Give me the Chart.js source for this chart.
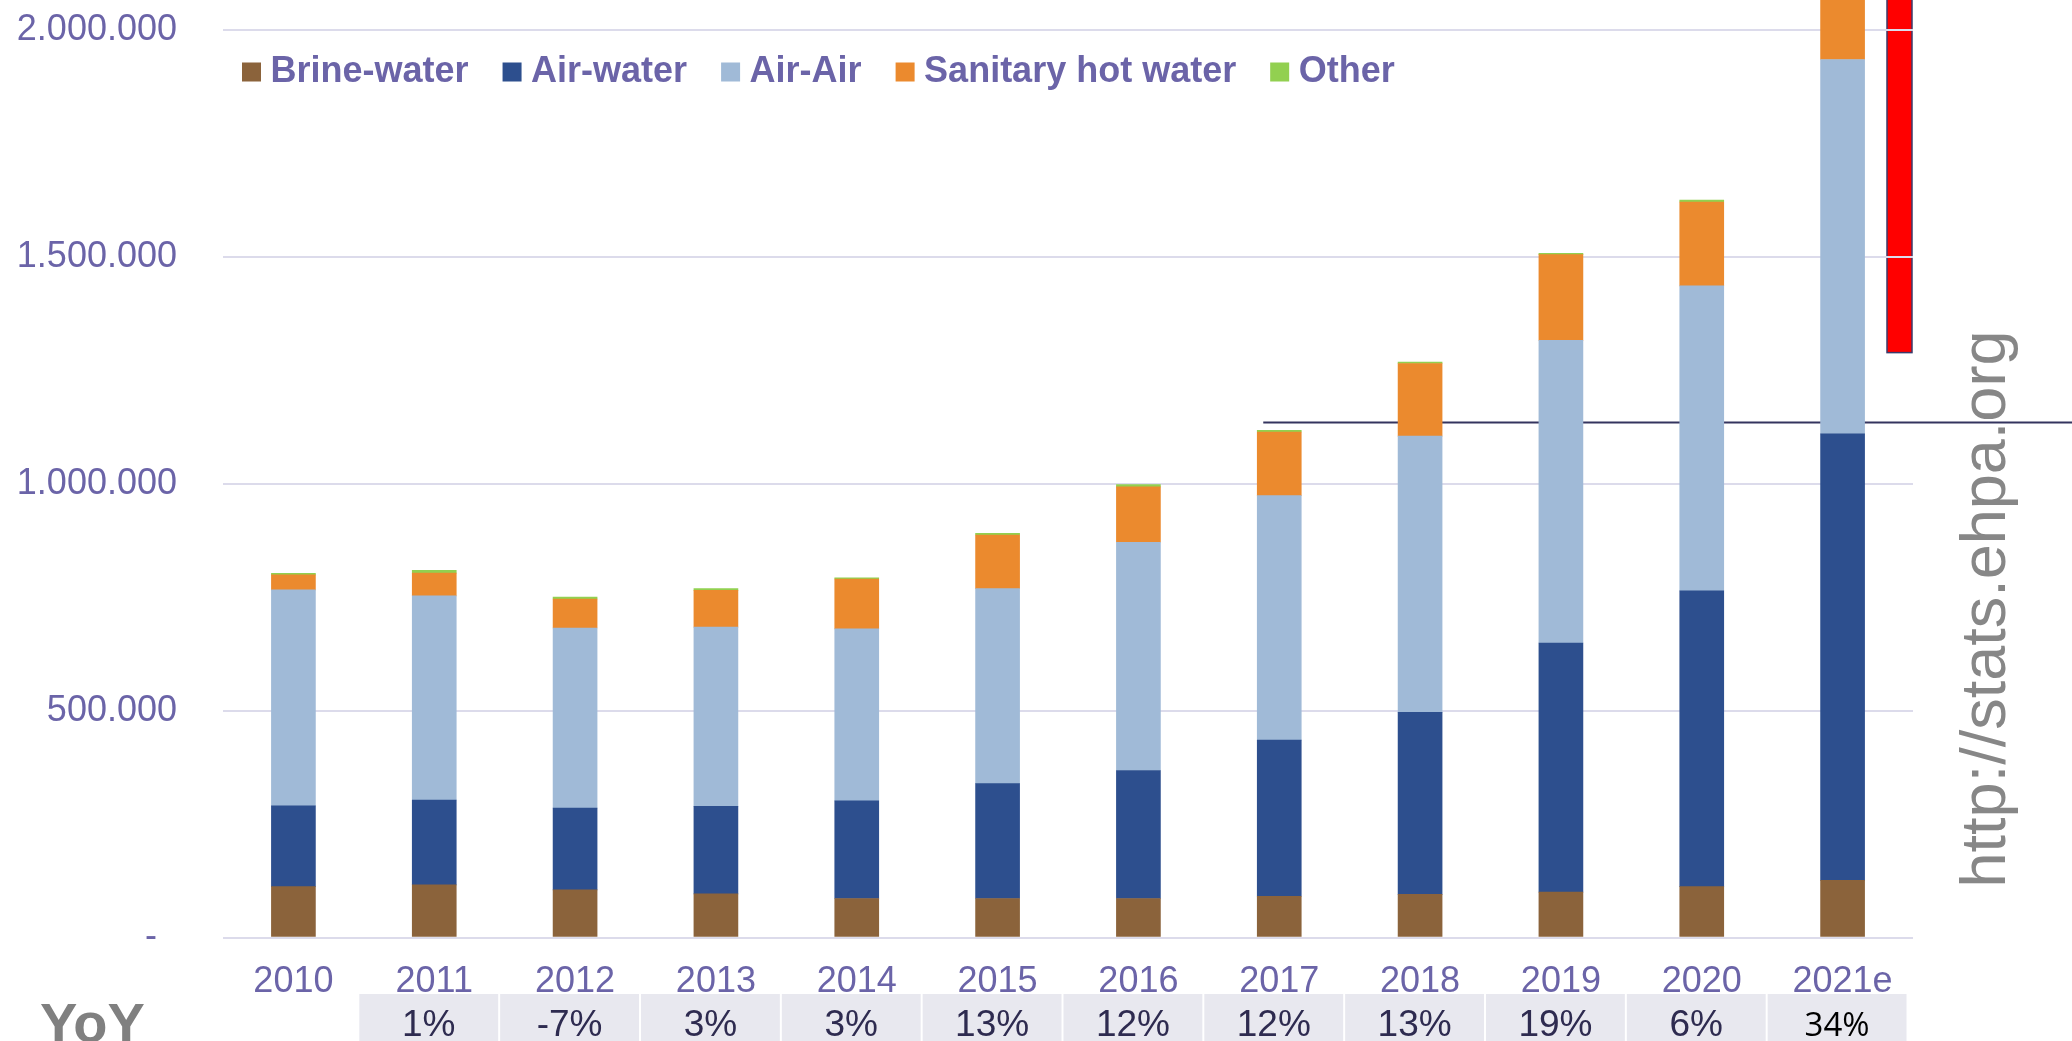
<!DOCTYPE html>
<html>
<head>
<meta charset="utf-8">
<title>Heat pump sales by type</title>
<script src="https://cdn.jsdelivr.net/npm/chart.js@4.4.0/dist/chart.umd.min.js"></script>
<style>
  html, body { margin:0; padding:0; background:#fff; }
  #wrap { width:2072px; height:1041px; position:relative; }
</style>
</head>
<body>
<div id="wrap"><canvas id="chartVentas"></canvas></div>
<script>
const years = ['2010','2011','2012','2013','2014','2015','2016','2017','2018','2019','2020','2021e'];
const brineWater = [112000, 116000, 105000, 96000, 86000, 86000, 86000, 91000, 95000, 100000, 112000, 126000];
const airWater   = [178000, 187000, 180000, 193000, 215000, 253000, 282000, 344000, 401000, 549000, 652000, 984000];
const airAir     = [476000, 450000, 397000, 395000, 379000, 430000, 503000, 539000, 609000, 667000, 672000, 825000];
const hotWater   = [33000, 50000, 64000, 81000, 110000, 118000, 122000, 140000, 160000, 189000, 185000, 240000];
const other      = [3500, 6000, 4000, 4000, 2500, 4000, 5000, 4000, 3000, 3000, 4000, 3000];
const yoy = [null, 1, -7, 3, 3, 13, 12, 12, 13, 19, 6, 34];
const yTickLabels = ['-  ', '500.000', '1.000.000', '1.500.000', '2.000.000'];
const refLineValue = 1136000;
const redBarFrom = 1289000;
const watermark = 'http://stats.ehpa.org';

const PURPLE = '#6B64A8';
const FONT = '"Liberation Sans", Arial, sans-serif';

function cellLeft(x, i){
  const step = x.getPixelForValue(1) - x.getPixelForValue(0);
  return { left: x.getPixelForValue(i) - step/2 - 4.5, w: step - 2 };
}

// red marker and table cells, drawn first so grid and labels pass over them
const backPlugin = {
  id:'backLayer',
  beforeDraw(chart){
    const {ctx, chartArea, scales:{x, y}} = chart;
    const bottom = y.getPixelForValue(redBarFrom);
    ctx.save();
    ctx.fillStyle = '#FF0000';
    ctx.strokeStyle = '#3B3B6B';
    ctx.lineWidth = 1.5;
    ctx.fillRect(chartArea.right - 26, -2, 25, bottom + 2);
    ctx.strokeRect(chartArea.right - 26, -2, 25, bottom + 2);

    ctx.fillStyle = '#E8E8EF';
    yoy.forEach((v, i) => {
      if(v == null) return;
      const c = cellLeft(x, i);
      ctx.fillRect(c.left, 994, c.w, 60);
    });
    ctx.restore();
  }
};

const refLinePlugin = {
  id:'refLine',
  beforeDatasetsDraw(chart){
    const {ctx, scales:{x, y}} = chart;
    const py = Math.round(y.getPixelForValue(refLineValue)) + 0.5;
    ctx.save();
    ctx.strokeStyle = '#34345F';
    ctx.lineWidth = 2;
    ctx.beginPath();
    ctx.moveTo(x.getPixelForValue(7) - 16, py);
    ctx.lineTo(chart.width, py);
    ctx.stroke();
    ctx.restore();
  }
};

const legendPlugin = {
  id:'topLegend',
  afterDraw(chart){
    const {ctx, chartArea} = chart;
    ctx.save();
    ctx.font = 'bold 36px ' + FONT;
    ctx.textBaseline = 'middle';
    let x = chartArea.left + 19;
    const y = 72;
    chart.data.datasets.forEach(ds => {
      ctx.fillStyle = ds.backgroundColor;
      ctx.fillRect(x, y - 9.5, 19, 19);
      ctx.fillStyle = PURPLE;
      ctx.fillText(ds.label, x + 28.5, y);
      x += 28.5 + ctx.measureText(ds.label).width + 34;
    });
    ctx.restore();
  }
};

const yoyPlugin = {
  id:'yoyRow',
  afterDraw(chart){
    const {ctx, scales:{x}} = chart;
    ctx.save();
    ctx.textAlign = 'center';
    ctx.textBaseline = 'alphabetic';
    yoy.forEach((v, i) => {
      if(v == null) return;
      const c = cellLeft(x, i);
      const last = i === yoy.length - 1;
      ctx.fillStyle = last ? '#000000' : '#2E2B50';
      ctx.font = last ? '33px "Open Sans", sans-serif' : '37px ' + FONT;
      ctx.fillText(v + '%', c.left + c.w/2, 1035.5);
    });
    ctx.fillStyle = '#808080';
    ctx.font = 'bold 56px ' + FONT;
    ctx.textAlign = 'left';
    ctx.fillText('YoY', 40, 1042);

    // vertical watermark
    ctx.translate(chart.width - 67, 609);
    ctx.rotate(-Math.PI/2);
    ctx.font = '63px ' + FONT;
    ctx.fillStyle = '#878787';
    ctx.textAlign = 'center';
    ctx.fillText(watermark, 0, 0);
    ctx.restore();
  }
};

const c1 = document.getElementById('chartVentas');
new Chart(c1, {
  type:'bar',
  data:{ labels:years, datasets:[
    { label:'Brine-water', data:brineWater, backgroundColor:'#8B633B' },
    { label:'Air-water', data:airWater, backgroundColor:'#2D4F8E' },
    { label:'Air-Air', data:airAir, backgroundColor:'#A0BAD7' },
    { label:'Sanitary hot water', data:hotWater, backgroundColor:'#EB8A2E' },
    { label:'Other', data:other, backgroundColor:'#92D050' }
  ]},
  options:{
    responsive:true,
    maintainAspectRatio:false,
    animation:false,
    devicePixelRatio:1,
    layout:{ padding:{ left:0, right:159, top:30, bottom:0 } },
    datasets:{ bar:{ barThickness:44, clip:false, borderWidth:0 } },
    plugins:{ legend:{ display:false }, tooltip:{ enabled:false } },
    scales:{
      x:{
        stacked:true,
        grid:{ display:false },
        border:{ display:false },
        ticks:{ color:PURPLE, font:{ family:FONT, size:36 }, padding:15, maxRotation:0, autoSkip:false },
        afterFit(s){ s.height = 103.5; s.paddingLeft = 0; s.paddingRight = 0; }
      },
      y:{
        stacked:true,
        min:0,
        max:2000000,
        border:{ display:false },
        grid:{ color:'#DCDBEB', lineWidth:2, drawTicks:false },
        ticks:{ stepSize:500000, padding:46, color:PURPLE, font:{ family:FONT, size:36 },
          callback:(v, i) => yTickLabels[i] },
        afterFit(s){ s.width = 223; s.paddingTop = 0; s.paddingBottom = 0; }
      }
    }
  },
  plugins:[backPlugin, refLinePlugin, legendPlugin, yoyPlugin]
});
</script>
</body>
</html>
